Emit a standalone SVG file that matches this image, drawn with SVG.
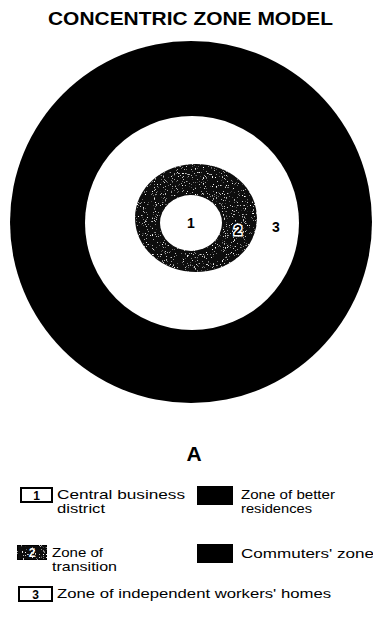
<svg xmlns="http://www.w3.org/2000/svg" width="373" height="633" viewBox="0 0 373 633">
  <style>
    text { font-family: "Liberation Sans", Arial, sans-serif; fill: #000; }
    .title { font-size: 18px; font-weight: bold; }
    .num { font-size: 14px; font-weight: bold; text-anchor: middle; }
    .leg { font-size: 13px; }
    .legnum { font-size: 12px; font-weight: bold; text-anchor: middle; }
    .box { fill: #fff; stroke: #000; stroke-width: 2; }
  </style>
  <defs>
    <filter id="speckle" x="0" y="0" width="100%" height="100%">
      <feTurbulence type="fractalNoise" baseFrequency="0.9" numOctaves="2" seed="4" result="n"/>
      <feColorMatrix in="n" type="matrix" values="0 0 0 0 1  0 0 0 0 1  0 0 0 0 1  6 0 0 0 -3.85" result="w"/>
      <feComposite in="w" in2="SourceGraphic" operator="in" result="wc"/>
      <feMerge><feMergeNode in="SourceGraphic"/><feMergeNode in="wc"/></feMerge>
    </filter>
  </defs>

  <rect width="373" height="633" fill="#fff"/>

  <text class="title" x="48" y="25" textLength="285" lengthAdjust="spacingAndGlyphs">CONCENTRIC ZONE MODEL</text>

  <g id="zone5">
    <circle cx="191" cy="222" r="181" fill="#000"/>
  </g>
  <g id="zone3">
    <circle cx="192" cy="223" r="107" fill="#fff"/>
    <text class="num" x="276" y="232">3</text>
  </g>
  <g id="zone2">
    <ellipse cx="196" cy="218" rx="61" ry="54" fill="#111" filter="url(#speckle)"/>
    <text class="num" x="238" y="235" stroke="#fff" stroke-width="3" paint-order="stroke">2</text>
  </g>
  <g id="zone1">
    <ellipse cx="191" cy="223" rx="31" ry="28" fill="#fff"/>
    <text class="num" x="191" y="228">1</text>
  </g>

  <text x="194" y="461" font-size="21" font-weight="bold" text-anchor="middle">A</text>

  <g id="legend-1">
    <rect class="box" x="21" y="488" width="31" height="14"/>
    <text class="legnum" x="36.5" y="499.5">1</text>
    <text class="leg" x="57" y="499" textLength="128" lengthAdjust="spacingAndGlyphs">Central business</text>
    <text class="leg" x="57" y="513" textLength="48" lengthAdjust="spacingAndGlyphs">district</text>
  </g>
  <g id="legend-4">
    <rect x="197" y="486" width="36" height="19" fill="#000"/>
    <text class="leg" x="241" y="499" textLength="94" lengthAdjust="spacingAndGlyphs">Zone of better</text>
    <text class="leg" x="241" y="513" textLength="71" lengthAdjust="spacingAndGlyphs">residences</text>
  </g>
  <g id="legend-2">
    <rect x="17" y="545" width="30" height="15" fill="#111" stroke="#000" stroke-width="1.5" filter="url(#speckle)"/>
    <text class="legnum" x="32" y="557" style="fill:#fff">2</text>
    <text class="leg" x="52" y="557" textLength="51" lengthAdjust="spacingAndGlyphs">Zone of</text>
    <text class="leg" x="52" y="571" textLength="65" lengthAdjust="spacingAndGlyphs">transition</text>
  </g>
  <g id="legend-5">
    <rect x="197" y="544" width="36" height="19" fill="#000"/>
    <text class="leg" x="241" y="558" textLength="133" lengthAdjust="spacingAndGlyphs">Commuters' zone</text>
  </g>
  <g id="legend-3">
    <rect class="box" x="19" y="587" width="33" height="14"/>
    <text class="legnum" x="35.5" y="598.5">3</text>
    <text class="leg" x="57" y="598" textLength="274" lengthAdjust="spacingAndGlyphs">Zone of independent workers' homes</text>
  </g>
</svg>
